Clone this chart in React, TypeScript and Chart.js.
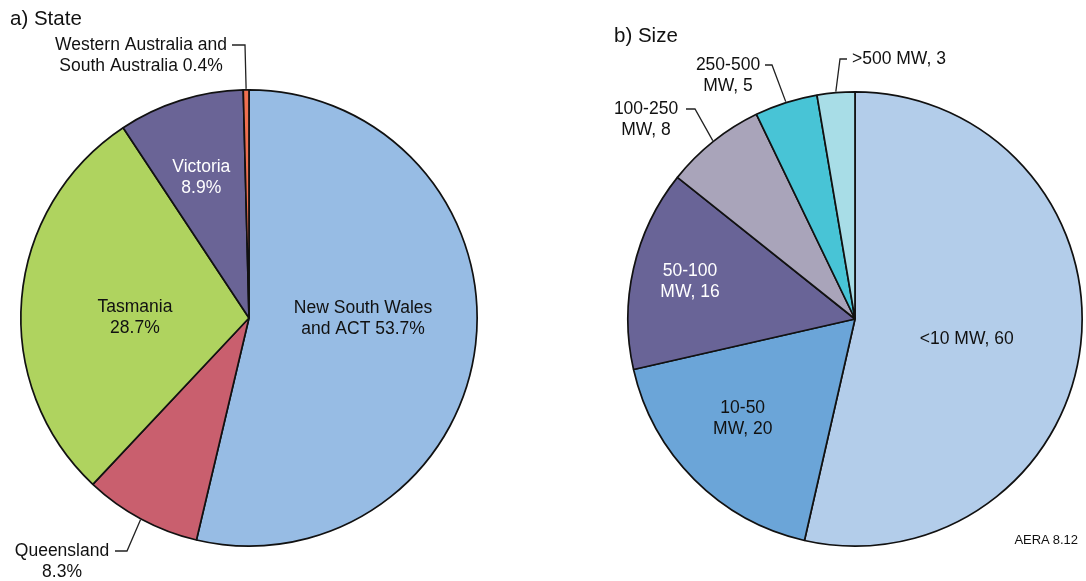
import React, { useEffect, useRef } from "react";
import { Chart, registerables } from "chart.js";

Chart.register(...registerables);

// ---- Data ----
const stateLabels = ["New South Wales and ACT", "Queensland", "Tasmania", "Victoria", "Western Australia and South Australia"];
const stateValues = [53.7, 8.3, 28.7, 8.9, 0.4];
const stateColors = ["#97bce4", "#c95f6e", "#afd35f", "#6a6496", "#f07050"];

const sizeLabels = ["<10 MW", "10-50 MW", "50-100 MW", "100-250 MW", "250-500 MW", ">500 MW"];
const sizeValues = [60, 20, 16, 8, 5, 3];
const sizeColors = ["#b3cdea", "#6ba5d8", "#696497", "#a9a4ba", "#48c4d6", "#a8dde7"];

const FONT = '"Liberation Sans", Arial, Helvetica, sans-serif';

// ---- Label text ----
const stateText: string[][] = [
  ["New South Wales", `and ACT ${stateValues[0]}%`],
  ["Queensland", `${stateValues[1]}%`],
  ["Tasmania", `${stateValues[2]}%`],
  ["Victoria", `${stateValues[3]}%`],
  ["Western Australia and", `South Australia ${stateValues[4]}%`],
];
const sizeText: string[][] = [
  [`<10 MW, ${sizeValues[0]}`],
  ["10-50", `MW, ${sizeValues[1]}`],
  ["50-100", `MW, ${sizeValues[2]}`],
  ["100-250", `MW, ${sizeValues[3]}`],
  ["250-500", `MW, ${sizeValues[4]}`],
  [`>500 MW, ${sizeValues[5]}`],
];

type LabelSpec =
  | { kind: "inside"; fr: number; da: number; color: string }
  | { kind: "leader"; elbow: [number, number]; end: [number, number]; text: [number, number]; align: CanvasTextAlign };

const stateSpecs: LabelSpec[] = [
  { kind: "inside", fr: 0.5, da: -6.2, color: "#111" },
  { kind: "leader", elbow: [-122, 233], end: [-134, 233], text: [-187, 233], align: "center" },
  { kind: "inside", fr: 0.5, da: -4.9, color: "#111" },
  { kind: "inside", fr: 0.65, da: -1.3, color: "#fff" },
  { kind: "leader", elbow: [-4, -273], end: [-17, -273], text: [-108, -273], align: "center" },
];
const sizeSpecs: LabelSpec[] = [
  { kind: "inside", fr: 0.5, da: 4, color: "#111" },
  { kind: "inside", fr: 0.66, da: 3.5, color: "#111" },
  { kind: "inside", fr: 0.745, da: 0, color: "#fff" },
  { kind: "leader", elbow: [-160, -210], end: [-169, -210], text: [-209, -210], align: "center" },
  { kind: "leader", elbow: [-83, -254], end: [-90, -254], text: [-127, -254], align: "center" },
  { kind: "leader", elbow: [-15, -260], end: [-8, -260], text: [-3, -260], align: "left" },
];

const LINE_H = 21;

function makeLabelPlugin(texts: string[][], specs: LabelSpec[]) {
  return {
    id: "sliceLabels",
    afterDraw(chart: any) {
      const ctx: CanvasRenderingContext2D = chart.ctx;
      const meta = chart.getDatasetMeta(0);
      ctx.save();
      ctx.font = `17.5px ${FONT}`;
      ctx.textBaseline = "middle";
      meta.data.forEach((el: any, i: number) => {
        const p = el.getProps(["x", "y", "startAngle", "endAngle", "outerRadius"], true);
        const mid = (p.startAngle + p.endAngle) / 2;
        const spec = specs[i];
        const lines = texts[i];
        if (spec.kind === "inside") {
          const a = mid + (spec.da * Math.PI) / 180;
          const r = p.outerRadius * spec.fr;
          const cx = p.x + Math.cos(a) * r;
          const cy = p.y + Math.sin(a) * r;
          ctx.fillStyle = spec.color;
          ctx.textAlign = "center";
          lines.forEach((ln, k) => {
            ctx.fillText(ln, cx, cy + (k - (lines.length - 1) / 2) * LINE_H);
          });
        } else {
          const sx = p.x + Math.cos(mid) * (p.outerRadius + 1);
          const sy = p.y + Math.sin(mid) * (p.outerRadius + 1);
          ctx.strokeStyle = "#222";
          ctx.lineWidth = 1.3;
          ctx.beginPath();
          ctx.moveTo(sx, sy);
          ctx.lineTo(p.x + spec.elbow[0], p.y + spec.elbow[1]);
          ctx.lineTo(p.x + spec.end[0], p.y + spec.end[1]);
          ctx.stroke();
          ctx.fillStyle = "#111";
          ctx.textAlign = spec.align;
          lines.forEach((ln, k) => {
            ctx.fillText(ln, p.x + spec.text[0], p.y + spec.text[1] + k * LINE_H);
          });
        }
      });
      ctx.restore();
    },
  };
}

function PieCanvas(props: {
  labels: string[];
  values: number[];
  colors: string[];
  texts: string[][];
  specs: LabelSpec[];
  padding: { left: number; right: number; top: number; bottom: number };
  left: number;
}) {
  const ref = useRef<HTMLCanvasElement | null>(null);
  useEffect(() => {
    if (!ref.current) return;
    const chart = new Chart(ref.current, {
      type: "pie",
      data: {
        labels: props.labels,
        datasets: [
          {
            data: props.values,
            backgroundColor: props.colors,
            borderColor: "#111",
            borderWidth: 1.7,
          },
        ],
      },
      options: {
        animation: false,
        responsive: false,
        maintainAspectRatio: false,
        layout: { padding: props.padding },
        plugins: { legend: { display: false }, tooltip: { enabled: false } },
        events: [],
      },
      plugins: [makeLabelPlugin(props.texts, props.specs)],
    });
    return () => chart.destroy();
  }, []);
  return (
    <canvas
      ref={ref}
      width={543}
      height={581}
      style={{ position: "absolute", left: props.left, top: 0, width: 543, height: 581 }}
    />
  );
}

export default function App() {
  return (
    <div
      style={{
        position: "absolute",
        left: 0,
        top: 0,
        width: 1086,
        height: 581,
        background: "#fff",
        fontFamily: FONT,
        color: "#111",
        overflow: "hidden",
      }}
    >
      <PieCanvas
        labels={stateLabels}
        values={stateValues}
        colors={stateColors}
        texts={stateText}
        specs={stateSpecs}
        padding={{ left: 20, right: 65, top: 89, bottom: 34 }}
        left={0}
      />
      <PieCanvas
        labels={sizeLabels}
        values={sizeValues}
        colors={sizeColors}
        texts={sizeText}
        specs={sizeSpecs}
        padding={{ left: 84, right: 3, top: 91, bottom: 34 }}
        left={543}
      />
      <div style={{ position: "absolute", left: 10, top: 6, fontSize: 20.5, lineHeight: "24px" }}>a) State</div>
      <div style={{ position: "absolute", left: 614, top: 23, fontSize: 20.5, lineHeight: "24px" }}>b) Size</div>
      <div style={{ position: "absolute", right: 8, top: 532, fontSize: 13, lineHeight: "16px" }}>AERA 8.12</div>
    </div>
  );
}
